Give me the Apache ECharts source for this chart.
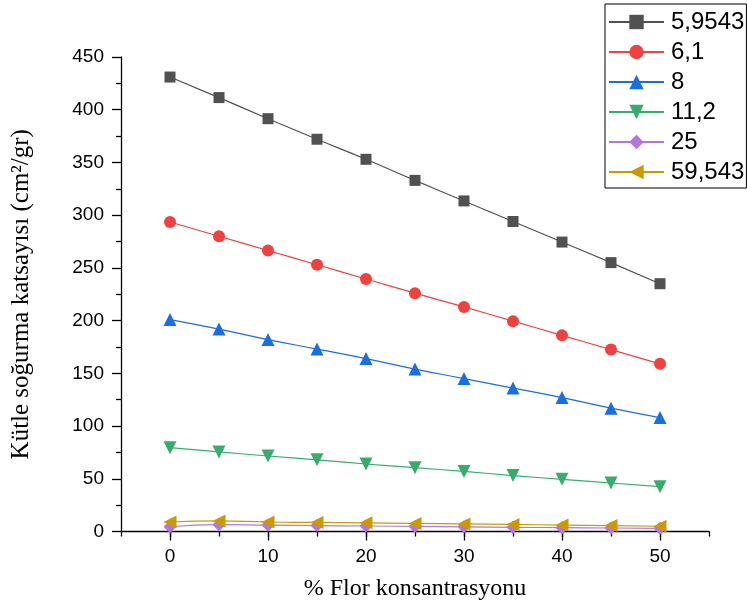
<!DOCTYPE html>
<html>
<head>
<meta charset="utf-8">
<script src="https://cdn.jsdelivr.net/npm/echarts@6/dist/echarts.min.js"></script>
<style>
html,body{margin:0;padding:0;background:#fff;}
#chart{width:747px;height:612px;}
</style>
</head>
<body>
<div id="chart"></div>
<script>
// veriler
const xValues = [0, 5, 10, 15, 20, 25, 30, 35, 40, 45, 50]
const seriesNames = ['5,9543', '6,1', '8', '11,2', '25', '59,543']
const s1 = [431, 411.5, 391.5, 372, 353, 333, 313.5, 294, 274.5, 255, 235]
const s2 = [293.5, 280, 266.5, 253, 239.5, 226, 213, 199.5, 186, 172.5, 159]
const s3 = [201, 192, 182, 173, 164, 154, 145, 136, 127, 117, 108]
const s4 = [79.5, 75.5, 71.6, 68, 64, 60.5, 57, 53, 49.5, 46, 42.5]
const s5 = [4.5, 6.5, 6, 5.6, 5.2, 4.8, 4.4, 4, 3.6, 3.3, 3]
const s6 = [9, 10, 9, 8.6, 8.2, 7.7, 7.2, 6.7, 6.1, 5.6, 5]
const majorX = [0, 10, 20, 30, 40, 50]

const colors = ['#515151', '#F14040', '#1A6FDF', '#37AD6B', '#B177DE', '#CC9900']
const symbols = [
  {symbol: 'rect', size: 11, rotate: 0},
  {symbol: 'circle', size: 12, rotate: 0},
  {symbol: 'triangle', size: 13, rotate: 0},
  {symbol: 'triangle', size: 13, rotate: 180},
  {symbol: 'diamond', size: 13, rotate: 0},
  {symbol: 'triangle', size: 13, rotate: 90}
]

function pairs(ys){
  return xValues.map((x, i) => [x, ys[i]])
}

let mycharts = echarts.init(document.getElementById('chart'))
let allData = [s1, s2, s3, s4, s5, s6]

let options = {
  animation: false,
  color: colors,
  grid: {left: 121, right: 38, top: 57, bottom: 80.5, containLabel: false},
  legend: {
    orient: 'vertical',
    left: 605,
    top: 4,
    width: 141,
    itemWidth: 55,
    itemHeight: 18,
    itemGap: 6,
    padding: [6, 2, 4, 3],
    borderColor: '#000',
    borderWidth: 1,
    backgroundColor: '#fff',
    textStyle: {fontFamily: 'Liberation Sans', fontSize: 24, color: '#000', lineHeight: 24, padding: [0, 0, 0, 2]},
    data: seriesNames
  },
  xAxis: [{
    type: 'value',
    min: -5,
    max: 55,
    interval: 5,
    name: '% Flor konsantrasyonu',
    nameLocation: 'middle',
    nameGap: 45,
    nameTextStyle: {fontFamily: 'Liberation Serif', fontSize: 24, color: '#000'},
    axisLine: {show: true, onZero: false, lineStyle: {color: '#000', width: 1.3}},
    axisTick: {show: true, inside: false, length: 5, lineStyle: {color: '#000', width: 1.3}},
    axisLabel: {
      customValues: majorX,
      margin: 16,
      fontFamily: 'Liberation Sans', fontSize: 19, color: '#000'
    },
    splitLine: {show: false}
  }, {
    // ana tik çizgileri
    type: 'value',
    position: 'bottom',
    min: -5,
    max: 55,
    interval: 5,
    axisLine: {show: false, onZero: false},
    axisTick: {show: true, customValues: majorX, length: 9, lineStyle: {color: '#000', width: 1.3}},
    axisLabel: {show: false},
    splitLine: {show: false}
  }],
  yAxis: {
    type: 'value',
    min: 0,
    max: 450,
    interval: 50,
    name: 'Kütle soğurma katsayısı (cm²/gr)',
    nameLocation: 'middle',
    nameGap: 87,
    nameTextStyle: {fontFamily: 'Liberation Serif', fontSize: 25, color: '#000'},
    axisLine: {show: true, onZero: false, lineStyle: {color: '#000', width: 1.3}},
    axisTick: {show: true, inside: false, length: 9, lineStyle: {color: '#000', width: 1.3}},
    minorTick: {show: true, splitNumber: 2, length: 5, lineStyle: {color: '#000', width: 1.3}},
    axisLabel: {margin: 17, fontFamily: 'Liberation Sans', fontSize: 19, color: '#000'},
    splitLine: {show: false}
  },
  series: seriesNames.map((name, i) => ({
    name: name,
    type: 'line',
    xAxisIndex: 0,
    smooth: true,
    data: pairs(allData[i]),
    symbol: symbols[i].symbol,
    symbolSize: symbols[i].size,
    symbolRotate: symbols[i].rotate,
    lineStyle: {width: 1.2, color: colors[i]},
    itemStyle: {color: colors[i]},
    z: 2 + i
  }))
}

mycharts.setOption(options, true)
</script>
</body>
</html>
